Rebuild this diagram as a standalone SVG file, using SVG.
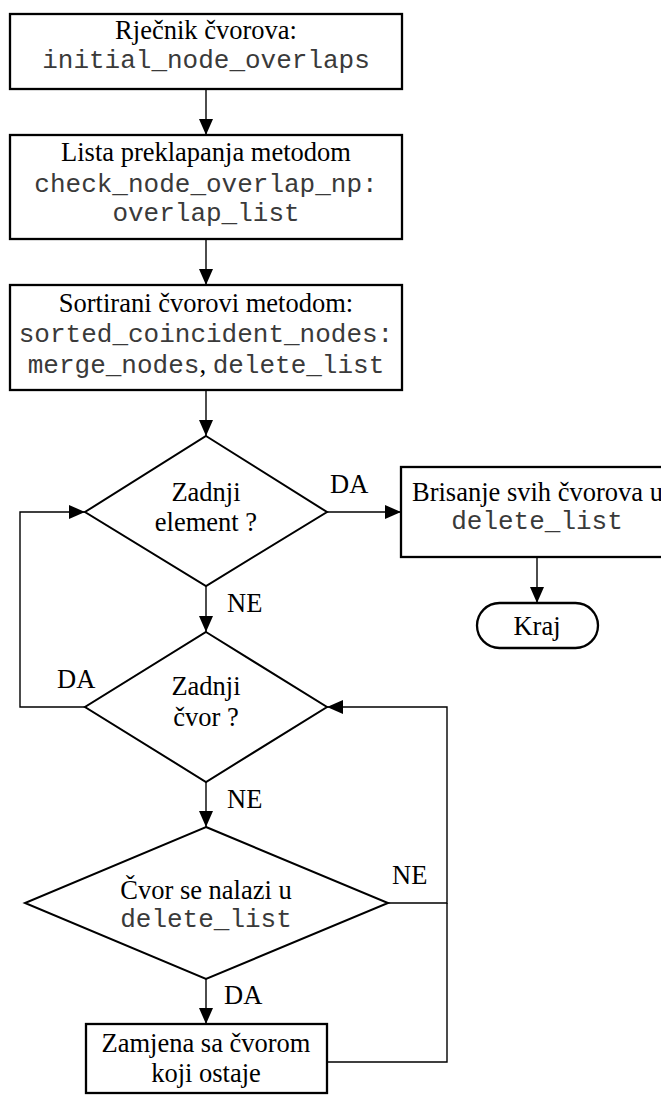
<svg xmlns="http://www.w3.org/2000/svg" width="661" height="1095" viewBox="0 0 661 1095">
<style>
.box{fill:#fff;stroke:#000;stroke-width:2.3}
.dia{fill:#fff;stroke:#000;stroke-width:2}
.con{fill:none;stroke:#000;stroke-width:1.4}
.t{font-family:"Liberation Serif","Times New Roman",serif;font-size:26.5px;fill:#000;text-anchor:middle}
.l{font-family:"Liberation Serif","Times New Roman",serif;font-size:26.5px;fill:#000}
.m{font-family:"Liberation Mono","Courier New",monospace;font-size:26px;fill:#3a3a3a}
</style>
<defs>
<marker id="arr" markerUnits="userSpaceOnUse" markerWidth="16" markerHeight="14" refX="16" refY="7" orient="auto">
<path d="M0,0 L16,7 L0,14 z" fill="#000"/>
</marker>
</defs>
<rect width="661" height="1095" fill="#fff"/>
<g id="connectors">
<line class="con" x1="206" y1="89" x2="206" y2="135" marker-end="url(#arr)"/>
<line class="con" x1="206" y1="239" x2="206" y2="285" marker-end="url(#arr)"/>
<line class="con" x1="206" y1="390" x2="206" y2="436" marker-end="url(#arr)"/>
<line class="con" x1="327" y1="512" x2="401" y2="512" marker-end="url(#arr)"/>
<line class="con" x1="537" y1="557" x2="537" y2="603" marker-end="url(#arr)"/>
<line class="con" x1="206" y1="586" x2="206" y2="632" marker-end="url(#arr)"/>
<polyline class="con" points="85,707 20,707 20,512 85,512" marker-end="url(#arr)"/>
<line class="con" x1="206" y1="782" x2="206" y2="827" marker-end="url(#arr)"/>
<polyline class="con" points="388,903 447,903 447,707 327,707" marker-end="url(#arr)"/>
<line class="con" x1="206" y1="979" x2="206" y2="1024" marker-end="url(#arr)"/>
<polyline class="con" points="327,1062 447,1062 447,903"/>
<text class="l" x="330" y="493">DA</text>
<text class="l" x="227" y="612">NE</text>
<text class="l" x="57" y="688">DA</text>
<text class="l" x="227" y="808">NE</text>
<text class="l" x="392" y="884">NE</text>
<text class="l" x="224" y="1004">DA</text>
</g>
<g id="n1">
<rect class="box" x="10" y="14" width="392" height="75"/>
<text class="t" x="206" y="39">Rječnik čvorova:</text>
<text class="m" x="206" y="68" text-anchor="middle">initial_node_overlaps</text>
</g>
<g id="n2">
<rect class="box" x="10" y="135" width="392" height="104"/>
<text class="t" x="206" y="161">Lista preklapanja metodom</text>
<text class="m" x="206" y="192" text-anchor="middle">check_node_overlap_np:</text>
<text class="m" x="206" y="221" text-anchor="middle">overlap_list</text>
</g>
<g id="n3">
<rect class="box" x="10" y="285" width="392" height="105"/>
<text class="t" x="206" y="312">Sortirani čvorovi metodom:</text>
<text class="m" x="206" y="342" text-anchor="middle">sorted_coincident_nodes:</text>
<text class="t" x="206" y="373"><tspan class="m">merge_nodes</tspan>, <tspan class="m">delete_list</tspan></text>
</g>
<g id="d1">
<polygon class="dia" points="206,436 327,512 206,586 85,512"/>
<text class="t" x="206" y="501">Zadnji</text>
<text class="t" x="206" y="531">element ?</text>
</g>
<g id="n4">
<rect class="box" x="401" y="467" width="275" height="90"/>
<text class="l" x="412" y="501">Brisanje svih čvorova u</text>
<text class="m" x="537" y="529" text-anchor="middle">delete_list</text>
</g>
<g id="end">
<rect class="box" x="477" y="603" width="121" height="45" rx="22.5" ry="22.5"/>
<text class="t" x="537" y="635">Kraj</text>
</g>
<g id="d2">
<polygon class="dia" points="206,632 327,707 206,782 85,707"/>
<text class="t" x="206" y="695">Zadnji</text>
<text class="t" x="206" y="726">čvor ?</text>
</g>
<g id="d3">
<polygon class="dia" points="206,827 388,903 206,979 25,903"/>
<text class="t" x="206" y="899">Čvor se nalazi u</text>
<text class="m" x="206" y="927" text-anchor="middle">delete_list</text>
</g>
<g id="n5">
<rect class="box" x="86" y="1024" width="241" height="69"/>
<text class="t" x="206" y="1052">Zamjena sa čvorom</text>
<text class="t" x="206" y="1082">koji ostaje</text>
</g>
</svg>
